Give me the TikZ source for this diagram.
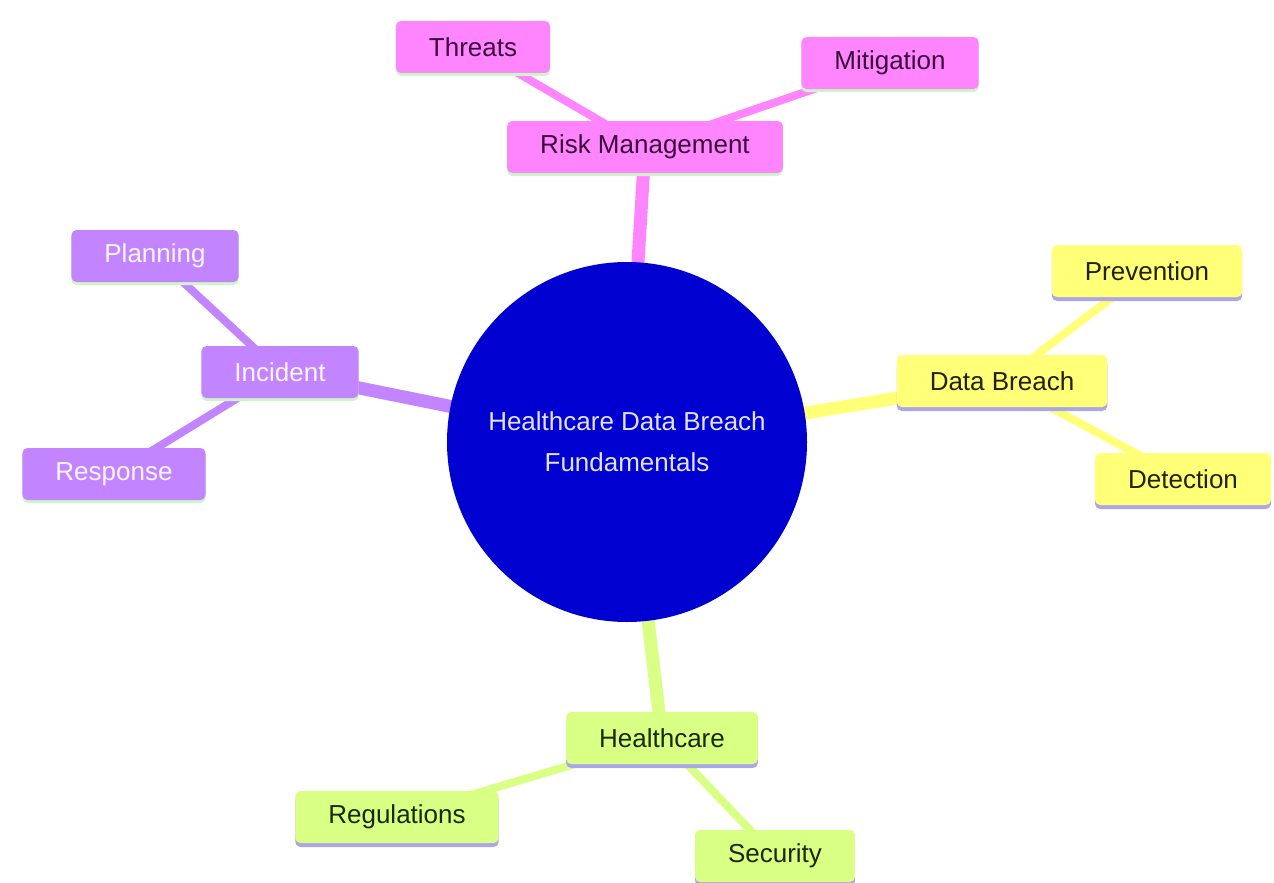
\documentclass[tikz,border=0pt]{standalone}
\usepackage{fontspec}
\setmainfont{Liberation Sans}
\usetikzlibrary{backgrounds}
\definecolor{pinkF}{HTML}{FF85FF}
\definecolor{pinkT}{HTML}{3A0A3A}
\definecolor{purpF}{HTML}{C285FF}
\definecolor{purpT}{HTML}{FAF5FF}
\definecolor{yelF}{HTML}{FFFF78}
\definecolor{yelT}{HTML}{222200}
\definecolor{limeF}{HTML}{D9FF85}
\definecolor{limeT}{HTML}{1A2A00}
\definecolor{greenSh}{HTML}{CCF5C8}
\definecolor{lavSh}{HTML}{ABA6E6}
\definecolor{coreF}{HTML}{0000D0}
\definecolor{coreT}{HTML}{E2E2FF}
\tikzset{
  mbox/.style={rectangle, rounded corners=5pt, minimum height=52pt, inner xsep=33pt,
    font=\fontsize{26}{31}\selectfont},
  pinkbox/.style={mbox, fill=pinkF, text=pinkT, preaction={fill=greenSh, transform canvas={yshift=-3pt}}},
  purpbox/.style={mbox, fill=purpF, text=purpT, preaction={fill=greenSh, transform canvas={yshift=-3pt}}},
  yelbox/.style={mbox, fill=yelF, text=yelT, preaction={fill=lavSh, transform canvas={yshift=-4pt}}},
  limebox/.style={mbox, fill=limeF, text=limeT, preaction={fill=lavSh, transform canvas={yshift=-4pt}}},
  mainedge/.style={line width=13pt},
  leafedge/.style={line width=8pt},
}
\begin{document}
\begin{tikzpicture}[x=1pt,y=-1pt]
\useasboundingbox (0,0) rectangle (1274,883);
\node[circle, fill=coreF, text=coreT, minimum size=360pt, inner sep=0pt, align=center,
  font=\fontsize{26}{41}\selectfont] (c) at (627,442) {Healthcare Data Breach\\Fundamentals};
% Risk Management
\node[pinkbox] (rm) at (645,147) {Risk Management};
\node[pinkbox] (th) at (473,47) {Threats};
\node[pinkbox] (mi) at (890,63) {Mitigation};
% Data Breach
\node[yelbox] (db) at (1002,381) {Data Breach};
\node[yelbox] (pv) at (1147,271) {Prevention};
\node[yelbox] (dt) at (1183,479) {Detection};
% Incident
\node[purpbox] (in) at (280,372) {Incident};
\node[purpbox] (pl) at (155,256) {Planning};
\node[purpbox] (rs) at (114,474) {Response};
% Healthcare
\node[limebox] (hc) at (662,738) {Healthcare};
\node[limebox] (rg) at (397,817) {Regulations};
\node[limebox] (se) at (775,856) {Security};
\begin{scope}[on background layer]
\draw[mainedge, pinkF] (c.center) -- (rm.center);
\draw[leafedge, pinkF] (rm.center) -- (th.center);
\draw[leafedge, pinkF] (rm.center) -- (mi.center);
\draw[mainedge, yelF] (c.center) -- (db.center);
\draw[leafedge, yelF] (db.center) -- (pv.center);
\draw[leafedge, yelF] (db.center) -- (dt.center);
\draw[mainedge, purpF] (c.center) -- (in.center);
\draw[leafedge, purpF] (in.center) -- (pl.center);
\draw[leafedge, purpF] (in.center) -- (rs.center);
\draw[mainedge, limeF] (c.center) -- (hc.center);
\draw[leafedge, limeF] (hc.center) -- (rg.center);
\draw[leafedge, limeF] (hc.center) -- (se.center);
\end{scope}
\end{tikzpicture}
\end{document}
